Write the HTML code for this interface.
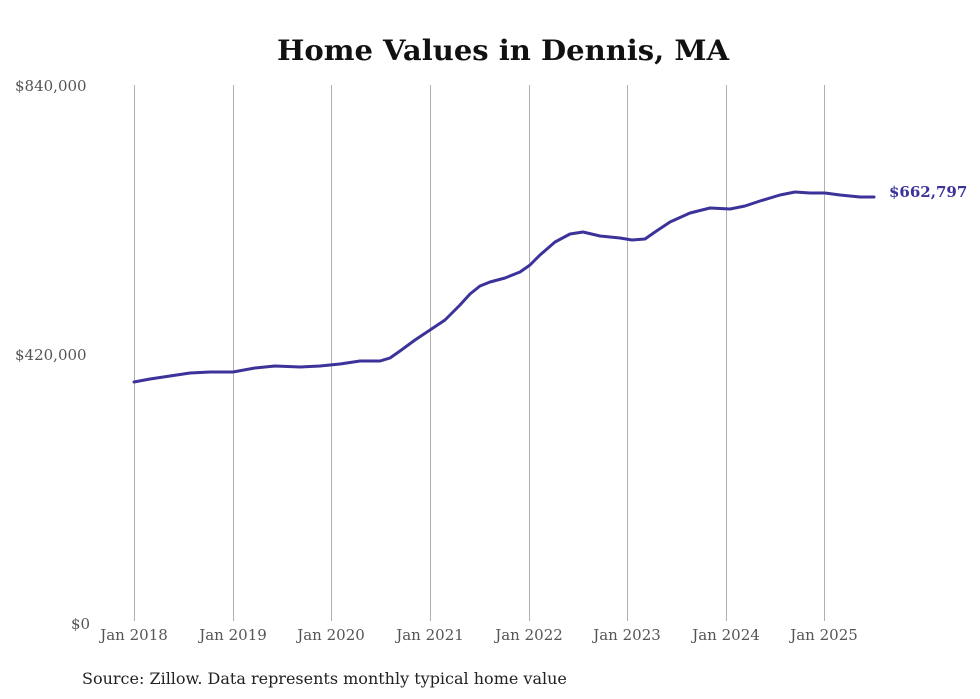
<!DOCTYPE html>
<html><head><meta charset="utf-8"><style>
body{margin:0;background:#fff;}
svg{display:block;font-family:"DejaVu Serif","Liberation Serif",serif;}
</style></head><body>
<svg width="980" height="699" viewBox="0 0 980 699">
<text x="503" y="60" text-anchor="middle" font-size="28" font-weight="bold" fill="#111" textLength="452" lengthAdjust="spacingAndGlyphs">Home Values in Dennis, MA</text>
<g stroke="#b0b0b0" stroke-width="1">
<line x1="134.5" y1="85" x2="134.5" y2="621"/><line x1="233.5" y1="85" x2="233.5" y2="621"/>
<line x1="331.5" y1="85" x2="331.5" y2="621"/><line x1="430.5" y1="85" x2="430.5" y2="621"/>
<line x1="529.5" y1="85" x2="529.5" y2="621"/><line x1="627.5" y1="85" x2="627.5" y2="621"/>
<line x1="726.5" y1="85" x2="726.5" y2="621"/><line x1="824.5" y1="85" x2="824.5" y2="621"/>
</g>
<g font-size="15" fill="#555">
<text x="15" y="91">$840,000</text>
<text x="15" y="360">$420,000</text>
<text x="71" y="629">$0</text>
</g>
<g font-size="15" fill="#555" text-anchor="middle">
<text x="134" y="640">Jan 2018</text><text x="233" y="640">Jan 2019</text>
<text x="331" y="640">Jan 2020</text><text x="430" y="640">Jan 2021</text>
<text x="529" y="640">Jan 2022</text><text x="627" y="640">Jan 2023</text>
<text x="726" y="640">Jan 2024</text><text x="824" y="640">Jan 2025</text>
</g>
<polyline fill="none" stroke="#3b3399" stroke-width="3" stroke-linejoin="round" stroke-linecap="round"
points="134,382 150,379 170,376 190,373 210,372 233,372 255,368 275,366 300,367 320,366 340,364 360,361 380,361 390,358 400,351 415,340 430,330 445,320 460,305 470,294 480,286 490,282 505,278 520,272 530,265 540,255 555,242 570,234 583,232 600,236 620,238 632,240 645,239 655,232 670,222 690,213 710,208 730,209 745,206 760,201 780,195 795,192 810,193 825,193 840,195 860,197 874,197"/>
<text x="889" y="197" font-size="15" font-weight="bold" fill="#3b3399">$662,797</text>
<text x="82" y="684" font-size="16" fill="#222">Source: Zillow. Data represents monthly typical home value</text>
</svg>
</body></html>
